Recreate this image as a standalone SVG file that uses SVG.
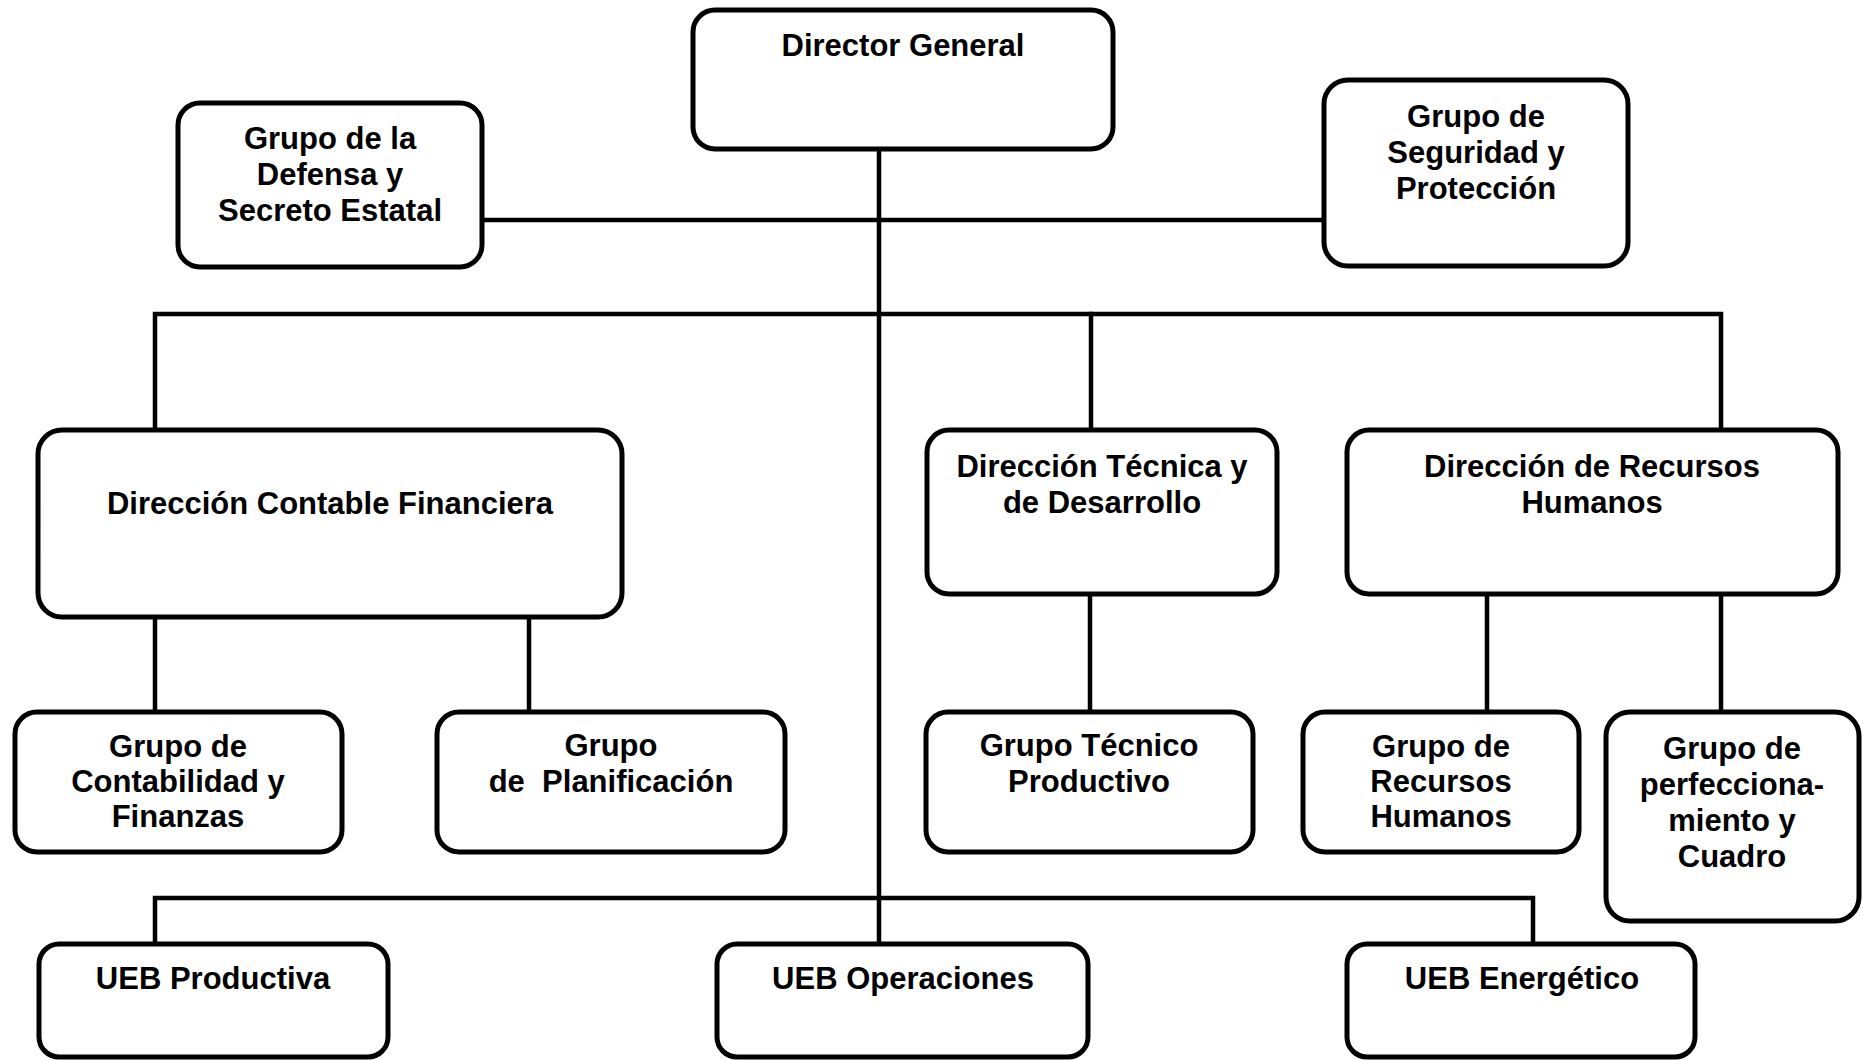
<svg xmlns="http://www.w3.org/2000/svg" width="1863" height="1060" viewBox="0 0 1863 1060">
<style>
.box{fill:#fff;stroke:#000;stroke-width:5}
.c{fill:none;stroke:#000;stroke-width:4.5;stroke-linecap:square}
text{font-family:"Liberation Sans",Arial,sans-serif;font-weight:bold;font-size:31px;fill:#000;text-anchor:middle;white-space:pre}
</style>
<rect width="1863" height="1060" fill="#fff"/>
<g id="connectors">
<line class="c" x1="879" y1="149" x2="879" y2="944"/>
<line class="c" x1="482" y1="220" x2="1324" y2="220"/>
<polyline class="c" points="155,430 155,314 1721,314 1721,430"/>
<line class="c" x1="1091" y1="314" x2="1091" y2="430"/>
<line class="c" x1="155" y1="617" x2="155" y2="712"/>
<line class="c" x1="529" y1="617" x2="529" y2="712"/>
<line class="c" x1="1090" y1="594" x2="1090" y2="712"/>
<line class="c" x1="1487" y1="594" x2="1487" y2="712"/>
<line class="c" x1="1721" y1="594" x2="1721" y2="712"/>
<polyline class="c" points="155,944 155,898 1533,898 1533,944"/>
</g>
<g id="n-director">
<rect class="box" x="693" y="10" width="420" height="139" rx="22"/>
<text x="903" y="56">Director General</text>
</g>
<g id="n-defensa">
<rect class="box" x="178" y="103" width="304" height="164" rx="22"/>
<text x="330" y="149">Grupo de la</text>
<text x="330" y="185">Defensa y</text>
<text x="330" y="221">Secreto Estatal</text>
</g>
<g id="n-seguridad">
<rect class="box" x="1324" y="80" width="304" height="186" rx="24"/>
<text x="1476" y="127">Grupo de</text>
<text x="1476" y="163">Seguridad y</text>
<text x="1476" y="199">Protección</text>
</g>
<g id="n-dcf">
<rect class="box" x="38" y="430" width="584" height="187" rx="24"/>
<text x="330" y="514">Dirección Contable Financiera</text>
</g>
<g id="n-dtd">
<rect class="box" x="927" y="430" width="350" height="164" rx="22"/>
<text x="1102" y="477">Dirección Técnica y</text>
<text x="1102" y="513">de Desarrollo</text>
</g>
<g id="n-drh">
<rect class="box" x="1347" y="430" width="491" height="164" rx="22"/>
<text x="1592" y="477">Dirección de Recursos</text>
<text x="1592" y="513">Humanos</text>
</g>
<g id="n-contabilidad">
<rect class="box" x="15" y="712" width="327" height="140" rx="22"/>
<text x="178" y="757">Grupo de</text>
<text x="178" y="792">Contabilidad y</text>
<text x="178" y="827">Finanzas</text>
</g>
<g id="n-planificacion">
<rect class="box" x="437" y="712" width="348" height="140" rx="22"/>
<text x="611" y="756">Grupo</text>
<text x="611" y="792">de  Planificación</text>
</g>
<g id="n-tecnico">
<rect class="box" x="926" y="712" width="327" height="140" rx="22"/>
<text x="1089" y="756">Grupo Técnico</text>
<text x="1089" y="792">Productivo</text>
</g>
<g id="n-grh">
<rect class="box" x="1303" y="712" width="276" height="140" rx="22"/>
<text x="1441" y="757">Grupo de</text>
<text x="1441" y="792">Recursos</text>
<text x="1441" y="827">Humanos</text>
</g>
<g id="n-perfeccionamiento">
<rect class="box" x="1606" y="712" width="253" height="209" rx="24"/>
<text x="1732" y="759">Grupo de</text>
<text x="1732" y="795">perfecciona-</text>
<text x="1732" y="831">miento y</text>
<text x="1732" y="867">Cuadro</text>
</g>
<g id="n-ueb-productiva">
<rect class="box" x="39" y="944" width="349" height="113" rx="20"/>
<text x="213" y="989">UEB Productiva</text>
</g>
<g id="n-ueb-operaciones">
<rect class="box" x="717" y="944" width="371" height="113" rx="20"/>
<text x="903" y="989">UEB Operaciones</text>
</g>
<g id="n-ueb-energetico">
<rect class="box" x="1347" y="944" width="348" height="113" rx="20"/>
<text x="1522" y="989">UEB Energético</text>
</g>
</svg>
